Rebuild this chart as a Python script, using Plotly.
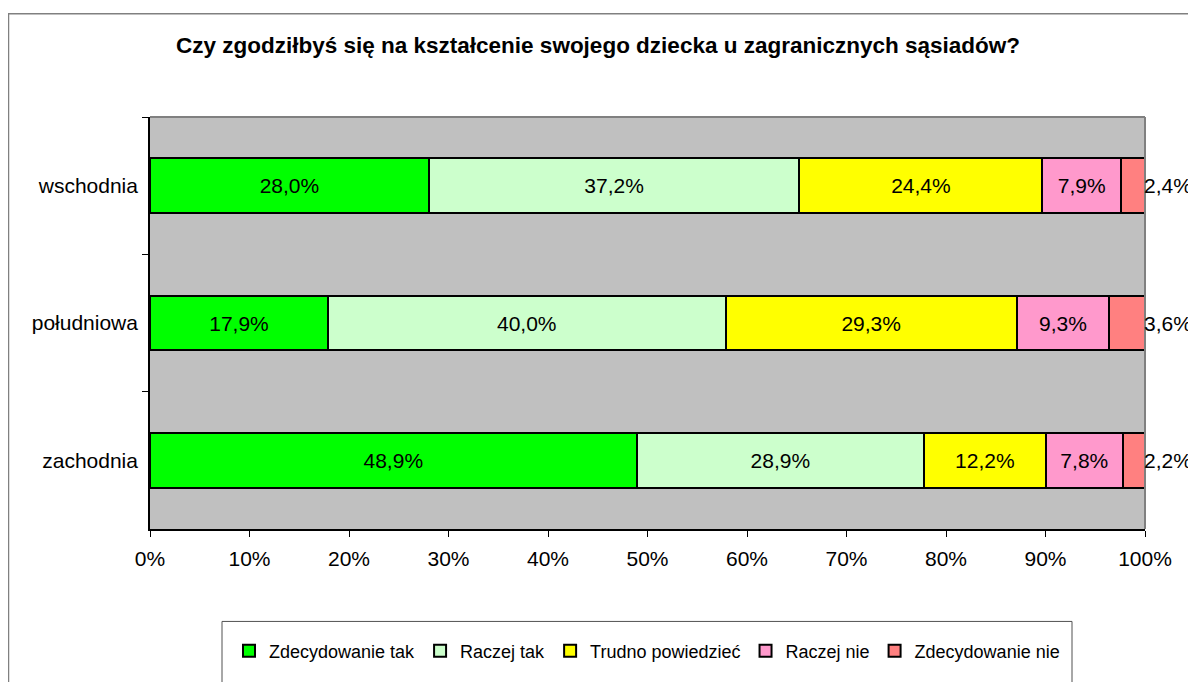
import plotly.graph_objects as go

regions = ["wschodnia", "południowa", "zachodnia"]
series = ["Zdecydowanie tak", "Raczej tak", "Trudno powiedzieć", "Raczej nie", "Zdecydowanie nie"]
values = {
    "Zdecydowanie tak": [28.0, 17.9, 48.9],
    "Raczej tak": [37.2, 40.0, 28.9],
    "Trudno powiedzieć": [24.4, 29.3, 12.2],
    "Raczej nie": [7.9, 9.3, 7.8],
    "Zdecydowanie nie": [2.4, 3.6, 2.2],
}
colors = ["#00FF00", "#CCFFCC", "#FFFF00", "#FF99CC", "#FF8080"]
xticks = [0, 10, 20, 30, 40, 50, 60, 70, 80, 90, 100]

# page body has an 8px margin; work in screen pixels and subtract it
OFF = 8
W, H = 1196 - OFF, 682 - OFF
L, T = 150 - OFF, 117 - OFF
R = W - (1145 - OFF)
B = H - (536 - OFF)
pw, ph = W - L - R, H - T - B

def px_x(p):
    return (p - OFF - L) / pw

def px_y(p):
    return (H - B - (p - OFF)) / ph

def fmt(v):
    return f"{v:.1f}".replace(".", ",") + "%"

FONT = "Liberation Sans, Arial, sans-serif"
FS = 21

fig = go.Figure()
for i, s in enumerate(series):
    last = i == len(series) - 1
    fig.add_trace(go.Bar(
        name=s, y=regions, x=values[s], orientation="h",
        marker=dict(color=colors[i], line=dict(color="black", width=2)),
        text=None if last else [fmt(v) for v in values[s]],
        textposition="none" if last else "inside",
        insidetextanchor="middle", textangle=0,
        textfont=dict(size=FS, color="black", family=FONT),
        hoverinfo="skip",
    ))

annotations = []
for j, r in enumerate(regions):
    annotations.append(dict(
        x=100, y=r, xref="x", yref="y", text=fmt(values[series[-1]][j]),
        showarrow=False, xanchor="left", xshift=-3,
        font=dict(size=FS, color="black", family=FONT),
    ))

shapes = [
    # outer chart frame
    dict(type="rect", xref="paper", yref="paper", x0=px_x(8.5), x1=px_x(1210), y0=px_y(700), y1=px_y(12),
         line=dict(color="#808080", width=1.5), layer="below"),
    # top and right plot border
    dict(type="line", xref="paper", yref="paper", x0=0, x1=1, y0=1, y1=1, line=dict(color="#808080", width=2)),
    dict(type="line", xref="paper", yref="paper", x0=1, x1=1, y0=0, y1=1, line=dict(color="#808080", width=2)),
    # legend box
    dict(type="rect", xref="paper", yref="paper", x0=px_x(222), x1=px_x(1072), y0=px_y(700), y1=px_y(630),
         line=dict(color="#505050", width=1), fillcolor="white"),
]

fig.update_layout(
    width=W, height=H,
    margin=dict(l=L, r=R, t=T, b=B),
    barmode="stack", barnorm="percent", bargap=0.6,
    paper_bgcolor="white", plot_bgcolor="#C0C0C0",
    font=dict(family=FONT, size=FS, color="black"),
    title=dict(text="<b>Czy zgodziłbyś się na kształcenie swojego dziecka u zagranicznych sąsiadów?</b>",
               x=(598 - OFF) / W, xref="container", y=1 - (45 - OFF) / H, yref="container",
               xanchor="center", yanchor="middle",
               font=dict(size=22.5, family=FONT, color="black")),
    xaxis=dict(range=[0, 100], tickvals=xticks, ticktext=[f"{t}%" for t in xticks],
               showgrid=False, zeroline=False, showline=True, linecolor="black", linewidth=2,
               ticks="outside", ticklen=6, tickcolor="black", tickfont=dict(size=FS),
               ticklabelstandoff=4),
    yaxis=dict(autorange="reversed", showgrid=False, zeroline=False, showline=True, linecolor="black",
               linewidth=2, ticks="outside", ticklen=6, tickcolor="black", tickson="boundaries",
               tickfont=dict(size=FS), ticksuffix=" "),
    legend=dict(orientation="h", x=px_x(647), xanchor="center", y=px_y(660), yanchor="middle",
                font=dict(size=18, family=FONT), bgcolor="rgba(0,0,0,0)", traceorder="normal",
                itemwidth=30),
    showlegend=True,
    annotations=annotations,
    shapes=shapes,
)

fig.write_html("out.html")
